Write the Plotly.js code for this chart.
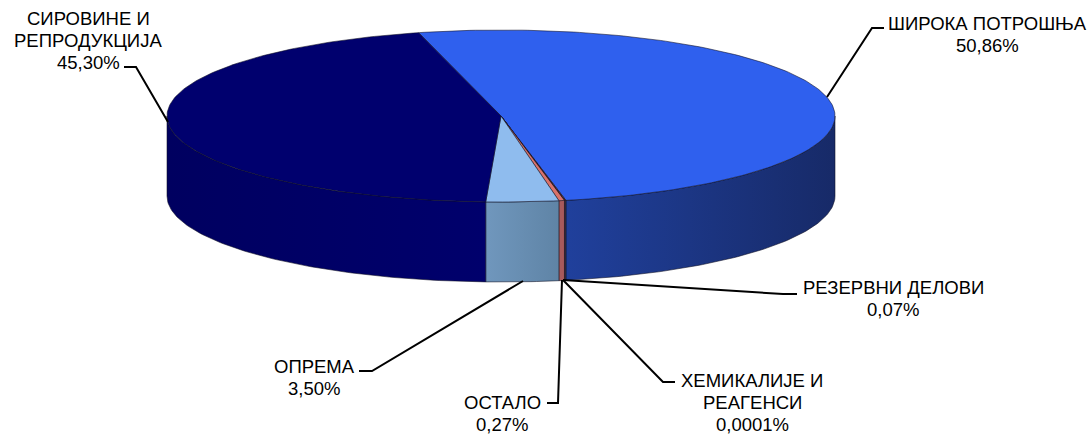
<!DOCTYPE html>
<html><head><meta charset="utf-8">
<script src="https://cdn.plot.ly/plotly-3.0.1.min.js"></script>
<style>html,body{margin:0;padding:0;background:#fff}#c{width:1090px;height:435px}</style></head>
<body><div id="c"></div>
<script>
// Data (clockwise from the start angle)
const categories = ["ШИРОКА ПОТРОШЊА","РЕЗЕРВНИ ДЕЛОВИ","ХЕМИКАЛИЈЕ И|РЕАГЕНСИ","ОСТАЛО","ОПРЕМА","СИРОВИНЕ И|РЕПРОДУКЦИЈА"];
const shares = [50.86,0.07,0.0001,0.27,3.50,45.30];
const shareLabels = ["50,86%","0,07%","0,0001%","0,27%","3,50%","45,30%"];
// Styles
const topColors = ["#2f60ee","#6e3a3a","#c05050","#d9726a","#8fbcee","#00006e"];
const sideStops = [["#20409c","#172a68"],["#3a2a30","#3a2a30"],["#a05050","#a05050"],["#a85a5c","#a85a5c"],["#7097bd","#5f84a6"],["#000060","#00006c"]];
// Pie geometry in pixels of the page
const cx=501, cy=116, rx=334, ry=86, depth=80, startDeg=-14.3;
// Label layout: centre x, y of the first line
const labelPos = [[987,23],[893,287],[752,380],[502,402],[314,366],[88,18]];
const lineGap = 22;
const leaders = [
 [[827,97],[872,28],[884,28]],
 [[563,280],[783,294],[797,294]],
 [[563,280],[663,382],[675,382]],
 [[562,280],[558,403],[547,403]],
 [[523,281],[372,371],[359,371]],
 [[168,122],[136,67],[124,67]]
];

const rad=d=>d*Math.PI/180;
const px=t=>cx+rx*Math.sin(rad(t));
const py=t=>cy-ry*Math.cos(rad(t));
const total=shares.reduce((a,b)=>a+b,0);
const slices=[]; let acc=startDeg;
shares.forEach(v=>{const a=acc; acc+=v/total*360; slices.push([a,acc]);});

function arc(a,b){const n=Math.max(2,Math.ceil(Math.abs(b-a)));const o=[];for(let i=0;i<=n;i++)o.push(a+(b-a)*i/n);return o;}
const traces=[];
const edge='rgba(15,15,35,0.7)';
// Sides
slices.forEach((s,i)=>{
  const a=Math.max(s[0],90), b=Math.min(s[1],270);
  if(b<=a) return;
  const ts=arc(a,b);
  const x=ts.map(px).concat(ts.slice().reverse().map(px),[px(a)]);
  const y=ts.map(py).concat(ts.slice().reverse().map(t=>py(t)+depth),[py(a)]);
  traces.push({type:'scatter',mode:'lines',x,y,fill:'toself',
    fillgradient:{type:'horizontal',colorscale:[[0,sideStops[i][0]],[1,sideStops[i][1]]]},
    line:{color:edge,width:0.8},hoverinfo:'skip',showlegend:false});
});
// Top face
slices.forEach((s,i)=>{
  const ts=arc(s[0],s[1]);
  const x=[cx].concat(ts.map(px),[cx]);
  const y=[cy].concat(ts.map(py),[cy]);
  traces.push({type:'scatter',mode:'lines',x,y,fill:'toself',fillcolor:topColors[i],
    line:{color:edge,width:0.8},hoverinfo:'skip',showlegend:false});
});
// Leader lines
leaders.forEach(l=>traces.push({type:'scatter',mode:'lines',x:l.map(p=>p[0]),y:l.map(p=>p[1]),
  line:{color:'#000',width:2},hoverinfo:'skip',showlegend:false}));

const annotations=[];
categories.forEach((c,i)=>{
  c.split('|').concat([shareLabels[i]]).forEach((t,k)=>annotations.push({xref:'x',yref:'y',
    x:labelPos[i][0],y:labelPos[i][1]+k*lineGap,text:t,showarrow:false,xanchor:'center',yanchor:'middle',
    font:{family:'"Liberation Sans",Arial,sans-serif',size:18.5,color:'#000'}}));
});
const axis={visible:false,fixedrange:true,showgrid:false,zeroline:false};
Plotly.newPlot('c',traces,{width:1090,height:435,margin:{l:0,r:0,t:0,b:0},
  paper_bgcolor:'#fff',plot_bgcolor:'#fff',showlegend:false,
  xaxis:Object.assign({range:[0,1090]},axis),yaxis:Object.assign({range:[435,0]},axis),annotations},
  {displayModeBar:false,staticPlot:true});
</script></body></html>
